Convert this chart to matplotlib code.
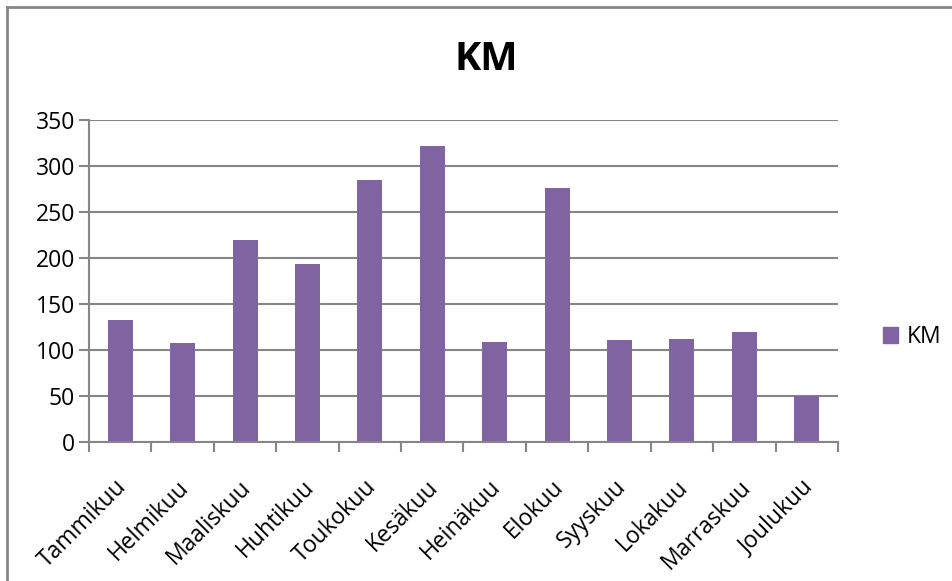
import matplotlib.pyplot as plt
from matplotlib.lines import Line2D
from matplotlib.patches import Rectangle
from matplotlib.transforms import ScaledTranslation
import numpy as np

months = ['Tammikuu', 'Helmikuu', 'Maaliskuu', 'Huhtikuu', 'Toukokuu', 'Kesäkuu',
          'Heinäkuu', 'Elokuu', 'Syyskuu', 'Lokakuu', 'Marraskuu', 'Joulukuu']
km = [133, 108, 220, 193, 285, 322, 109, 276, 111, 112, 120, 50]
y_ticks = [0, 50, 100, 150, 200, 250, 300, 350]

plt.rcParams['font.family'] = ['Open Sans', 'DejaVu Sans']
grey = '#868686'
purple = '#8064A2'

fig = plt.figure(figsize=(9.53, 5.81), dpi=100)
ax = fig.add_axes([89 / 953, 1 - 442 / 581, (838 - 89) / 953, (442 - 120) / 581])

x = np.arange(len(months))
ax.bar(x, km, width=0.4, color=purple, label='KM', zorder=3)

ax.set_xlim(-0.5, len(months) - 0.5)
ax.set_ylim(0, 350)
ax.set_yticks(y_ticks)
ax.set_yticklabels([str(v) for v in y_ticks], fontsize=16.5)
ax.yaxis.grid(True, color=grey, linewidth=1.5, zorder=0)
ax.tick_params(axis='y', length=7, width=1.5, color=grey, pad=3)

# category labels at centres, tick marks at boundaries
ax.set_xticks(x)
ax.set_xticklabels(months, rotation=45, ha='right', va='baseline',
                   rotation_mode='anchor', fontsize=16.5)
ax.tick_params(axis='x', which='major', length=0, pad=33)
shift = ScaledTranslation(7 / 100, 0, fig.dpi_scale_trans)
for lbl in ax.get_xticklabels():
    lbl.set_transform(lbl.get_transform() + shift)
ax.set_xticks(np.arange(-0.5, len(months)), minor=True)
ax.tick_params(axis='x', which='minor', length=7, width=1.5, color=grey)

for s in ['top', 'right']:
    ax.spines[s].set_visible(False)
for s in ['left', 'bottom']:
    ax.spines[s].set_color(grey)
    ax.spines[s].set_linewidth(1.5)
    ax.spines[s].set_zorder(4)

fig.text(486 / 953, 1 - 60 / 581, 'KM', ha='center', va='center',
         fontsize=28.5, fontweight='bold')

fig.legend(handles=[Rectangle((0, 0), 1, 1, color=purple)], labels=['KM'],
           loc='center left', bbox_to_anchor=(862 / 953, 1 - 337 / 581),
           frameon=False, fontsize=16.5, handlelength=0.65, handleheight=0.65,
           handletextpad=0.4)

# chart border (left and top edges visible)
fig.add_artist(Line2D([6.5 / 953, 6.5 / 953], [0, 1 - 7 / 581], color=grey, lw=2,
                      transform=fig.transFigure))
fig.add_artist(Line2D([6.5 / 953, 1], [1 - 7 / 581, 1 - 7 / 581], color=grey, lw=2,
                      transform=fig.transFigure))

fig.savefig('out.png', dpi=100)
